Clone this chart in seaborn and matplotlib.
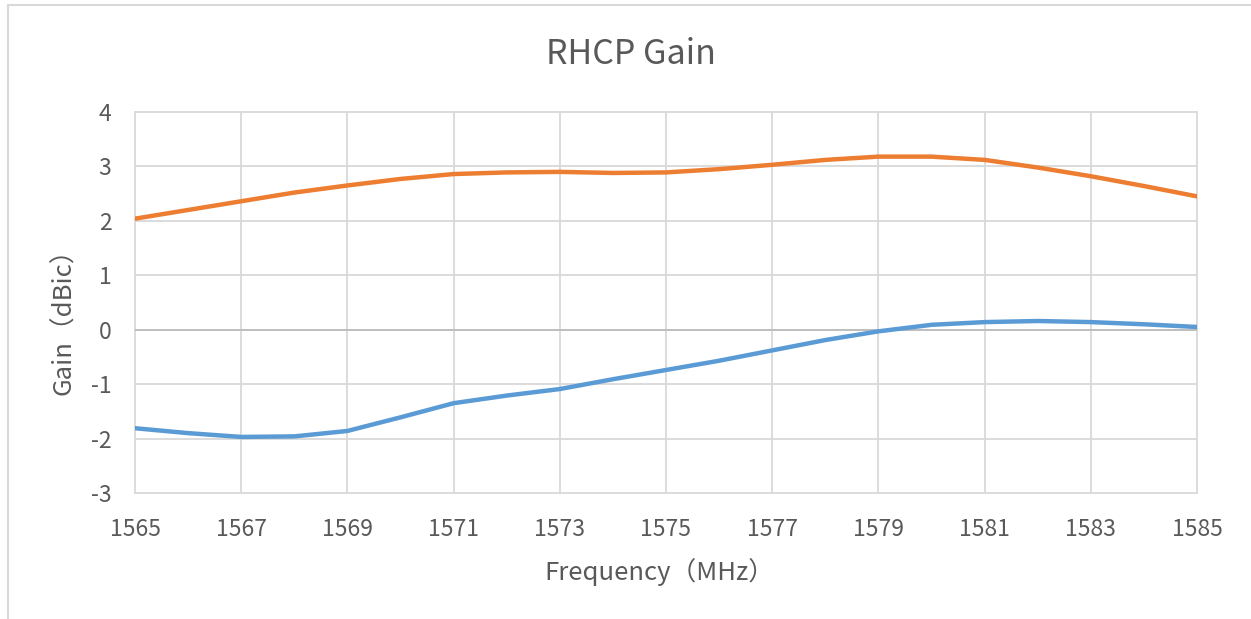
import numpy as np
import pandas as pd
import seaborn as sns
import matplotlib.pyplot as plt
from matplotlib.lines import Line2D

# values, one point per MHz
freq = list(range(1565, 1586))
gain_orange = [2.04, 2.20, 2.36, 2.52, 2.65, 2.77, 2.86, 2.89, 2.90, 2.88, 2.89,
               2.95, 3.03, 3.12, 3.18, 3.18, 3.12, 2.98, 2.82, 2.64, 2.45]
gain_blue = [-1.81, -1.90, -1.97, -1.96, -1.86, -1.61, -1.35, -1.21, -1.09, -0.91, -0.74,
             -0.57, -0.38, -0.19, -0.03, 0.09, 0.14, 0.16, 0.14, 0.10, 0.05]
xticks = list(range(1565, 1586, 2))
yticks = list(range(-3, 5))

df = pd.DataFrame({
    'freq': freq * 2,
    'gain': gain_orange + gain_blue,
    'series': ['orange'] * len(freq) + ['blue'] * len(freq),
})

sns.set_style('white')
plt.rcParams['font.family'] = ['Noto Sans CJK SC', 'DejaVu Sans']
plt.rcParams['axes.unicode_minus'] = False
text_col = '#595959'
grid_col = '#D9D9D9'

fig = plt.figure(figsize=(12.51, 6.19), dpi=100)
ax = fig.add_axes([135 / 1251, 1 - 493 / 619, 1062 / 1251, 381 / 619])

sns.lineplot(data=df, x='freq', y='gain', hue='series',
             palette={'orange': '#ED7D31', 'blue': '#5B9BD5'},
             linewidth=3.2, legend=False, ax=ax, zorder=3)

ax.set_xlim(1565, 1585)
ax.set_ylim(-3, 4)
ax.set_xticks(xticks)
ax.set_yticks(yticks)
ax.grid(True, color=grid_col, linewidth=1.3)
for gl in ax.get_xgridlines() + ax.get_ygridlines():
    gl.set_clip_on(False)
ax.axhline(0, color='#BFBFBF', linewidth=1.4, zorder=2)
for s in ax.spines.values():
    s.set_visible(False)

ax.tick_params(axis='both', length=0, labelsize=16.5, labelcolor=text_col)
ax.tick_params(axis='x', pad=18)
ax.tick_params(axis='y', pad=17)

ax.set_xlabel('Frequency（MHz）', fontsize=18.5, color=text_col)
ax.xaxis.set_label_coords((659 - 135) / 1062, (493 - 572) / 381)
ax.xaxis.label.set_va('center')
ax.set_ylabel('Gain（dBic）', fontsize=18.5, color=text_col)
ax.yaxis.set_label_coords((64 - 135) / 1062, (493 - 315) / 381)
ax.yaxis.label.set_va('center')

fig.text(631 / 1251, 1 - 54 / 619, 'RHCP Gain', fontsize=24.5, color=text_col,
         ha='center', va='center')

# chart frame (only left and top edges visible in the crop)
fig.add_artist(Line2D([8 / 1251, 8 / 1251], [0, 1 - 5 / 619], color=grid_col, linewidth=1.5))
fig.add_artist(Line2D([8 / 1251, 1], [1 - 5 / 619, 1 - 5 / 619], color=grid_col, linewidth=1.5))

fig.savefig('out.png', dpi=100)
